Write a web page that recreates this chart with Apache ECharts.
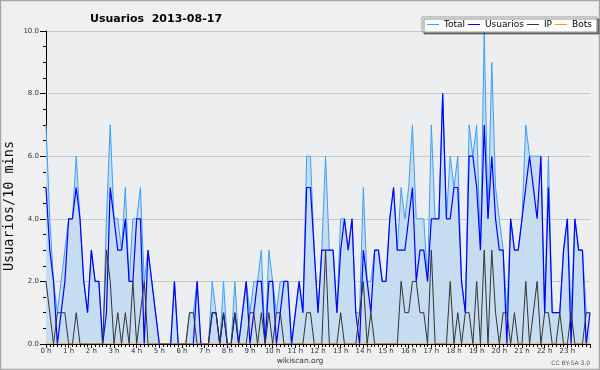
<!DOCTYPE html>
<html>
<head>
<meta charset="utf-8">
<script src="https://cdn.jsdelivr.net/npm/echarts@6/dist/echarts.min.js"></script>
<style>html,body{margin:0;padding:0;background:#f0f0f0;}#c{width:600px;height:370px;}</style>
</head>
<body>
<div id="c"></div>
<script>
// 10-minute samples from 0:00 to 24:00 (145 samples)
var total = [
7,4,2,1,2,3,4,4,6,4,
2,1,3,2,2,0,4,7,4,4,
3,5,2,4,4,5,2,3,2,1,
0,0,0,0,2,0,0,0,1,1,
2,0,0,0,2,1,0,2,0,0,
2,0,1,2,1,2,2,3,0,3,
2,1,2,2,2,0,1,2,1,6,
6,3,1,3,6,3,3,1,4,4,
3,4,1,1,5,2,2,3,3,2,
2,4,5,3,5,4,5,7,4,4,
4,2,7,4,4,8,4,6,5,6,
2,1,7,6,7,3,10,4,9,5,
4,3,1,4,3,3,4,7,6,6,
6,6,1,6,1,1,1,3,4,1,
4,3,3,1,1
];
var usuarios = [
5,3,2,0,1,2,4,4,5,4,
2,1,3,2,2,0,1,5,4,3,
3,4,2,2,4,4,0,3,2,1,
0,0,0,0,2,0,0,0,0,0,
2,0,0,0,1,1,0,1,0,0,
1,0,1,2,0,1,2,2,0,2,
2,0,1,2,2,0,1,2,1,5,
5,3,1,3,3,3,3,1,3,4,
3,4,1,0,3,2,1,3,3,2,
2,4,5,3,3,3,4,5,2,3,
3,2,4,4,4,8,4,4,5,5,
2,1,6,6,5,3,7,4,6,4,
3,3,0,4,3,3,4,5,6,5,
4,6,1,5,1,1,1,3,4,0,
4,3,3,0,1
];
var ip = [
2,1,0,1,1,1,0,0,1,0,
0,0,0,0,0,0,3,2,0,1,
0,1,0,2,0,1,2,0,0,0,
0,0,0,0,0,0,0,0,1,1,
0,0,0,0,1,1,0,1,0,0,
1,0,0,0,1,1,0,1,0,1,
0,1,1,0,0,0,0,0,0,1,
1,0,0,0,3,0,0,0,1,0,
0,0,0,1,2,0,1,0,0,0,
0,0,0,0,2,1,1,2,2,1,
1,0,3,0,0,0,0,2,0,1,
0,1,1,0,2,0,3,0,3,1,
0,1,1,0,1,0,0,2,0,1,
2,0,1,1,0,0,1,0,0,1,
0,0,0,1,1
];
var bots = total.map(function(){return 0;});
var seriesNames = ['Total','Usuarios','IP','Bots'];
var titleText = 'Usuarios  2013-08-17';
var yAxisTitle = 'Usuarios/10 mins';
var hourSuffix = ' h';

function pts(arr){ return arr.map(function(v,i){ return [i/6, v]; }); }

var chart = echarts.init(document.getElementById('c'), null, {renderer:'canvas'});
var FONT = 'DejaVu Sans';
chart.setOption({
  animation:false,
  backgroundColor:'#f0f0f0',
  title:{text:titleText,left:85,top:9,textStyle:{fontFamily:FONT,fontSize:11,fontWeight:'bold',color:'#000'}},
  legend:{
    data:seriesNames.map(function(n){return {name:n,icon:'rect'};}),
    left:422,top:17,padding:[3,5],itemWidth:12,itemHeight:1,itemGap:3,
    backgroundColor:'#fff',borderColor:'#999',borderWidth:1,
    shadowColor:'rgba(0,0,0,0.45)',shadowOffsetX:2,shadowOffsetY:2,shadowBlur:0,
    textStyle:{fontFamily:FONT,fontSize:9,color:'#000'},
    selectedMode:false
  },
  grid:{left:46,right:10,top:31,bottom:26,show:true,backgroundColor:'#eceef0',borderWidth:0},
  xAxis:{
    type:'value',min:0,max:24,interval:1,z:10,
    axisLine:{lineStyle:{color:'#000',width:1}},
    axisTick:{show:true,length:4,lineStyle:{color:'#000'}},
    minorTick:{show:true,splitNumber:6,length:3,lineStyle:{color:'#000'}},
    splitLine:{show:false},
    axisLabel:{margin:4,fontFamily:FONT,fontSize:7,color:'#333',
      formatter:function(v){return v>=24?'':(v+hourSuffix);}}
  },
  yAxis:{
    type:'value',min:0,max:10,interval:2,
    axisLine:{show:true,lineStyle:{color:'#000',width:1}},
    axisTick:{show:true,length:6,lineStyle:{color:'#000'}},
    minorTick:{show:true,splitNumber:4,length:3,lineStyle:{color:'#000'}},
    splitLine:{show:true,lineStyle:{color:'#c8c8c8',width:1}},
    axisLabel:{margin:7,fontFamily:FONT,fontSize:7,color:'#333',formatter:function(v){return v.toFixed(1);}}
  },
  series:[
    {name:seriesNames[0],type:'line',data:pts(total),symbol:'none',color:'#3d9ff5',
      lineStyle:{width:1,color:'#3d9ff5'},areaStyle:{color:'#c6dcf0',opacity:1}},
    {name:seriesNames[1],type:'line',data:pts(usuarios),symbol:'none',color:'#0000ff',
      lineStyle:{width:1.2,color:'#0000ff'}},
    {name:seriesNames[2],type:'line',data:pts(ip),symbol:'none',color:'#333333',
      lineStyle:{width:1,color:'#333333'}},
    {name:seriesNames[3],type:'line',data:pts(bots),symbol:'none',color:'#ff9900',
      lineStyle:{width:1,color:'#ff9900'}}
  ],
  graphic:[
    {type:'rect',shape:{x:0.5,y:0.5,width:599,height:369},style:{fill:'none',stroke:'#a8a8a8',lineWidth:1.5},silent:true},
    {type:'text',x:9,y:206,rotation:Math.PI/2,style:{text:yAxisTitle,fontFamily:'DejaVu Sans Mono',fontSize:13.5,fill:'#111',align:'center',verticalAlign:'middle'}},
    {type:'text',x:300,y:361,style:{text:'wikiscan.org',fontFamily:FONT,fontSize:7.5,fill:'#333',align:'center',verticalAlign:'middle'}},
    {type:'text',x:590,y:363,style:{text:'CC BY-SA 3.0',fontFamily:FONT,fontSize:6,fill:'#555',align:'right',verticalAlign:'middle'}}
  ]
});
</script>
</body>
</html>
